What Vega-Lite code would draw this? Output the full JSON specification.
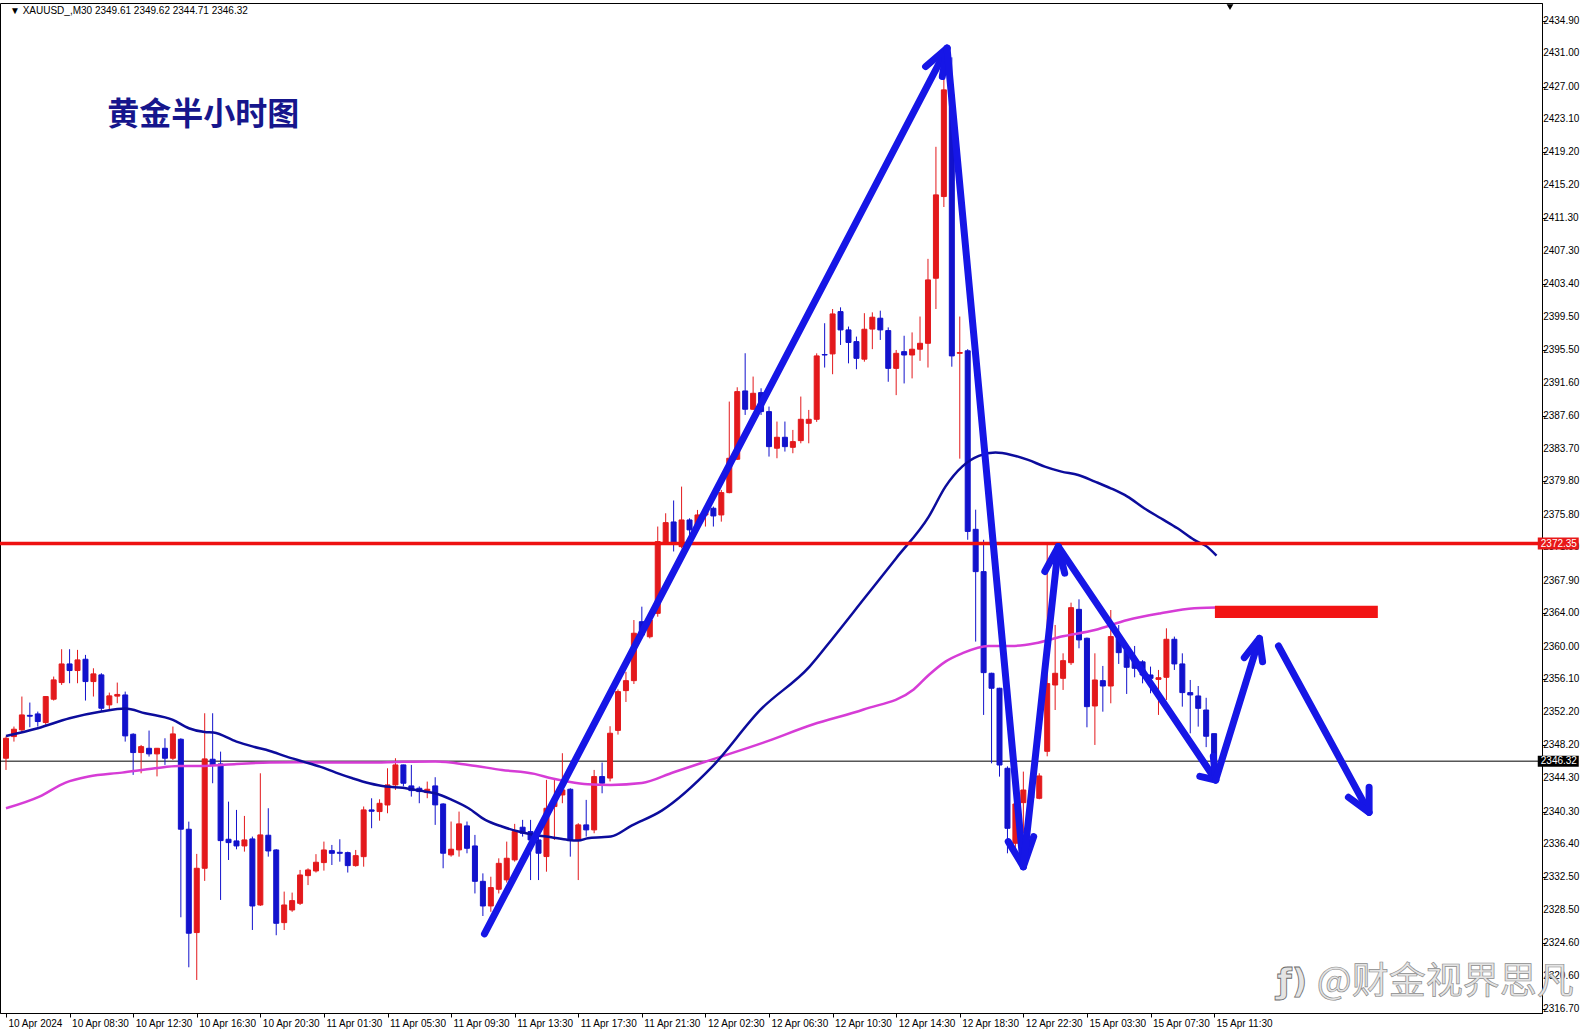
{
  "$schema": "https://vega.github.io/schema/vega-lite/v6.json",
  "width": 1542,
  "height": 1010,
  "autosize": "none",
  "padding": {"left": 0, "top": 3, "right": 48, "bottom": 23},
  "background": "#ffffff",
  "datasets": {
    "k": [
      {"i":0,"o":2346.67,"h":2349.3,"l":2345.27,"c":2349.06},
      {"i":1,"o":2349.26,"h":2350.46,"l":2348.66,"c":2350.14},
      {"i":2,"o":2350.06,"h":2354.05,"l":2349.86,"c":2351.85},
      {"i":3,"o":2351.8,"h":2353.33,"l":2350.38,"c":2351.7},
      {"i":4,"o":2351.97,"h":2352.25,"l":2350.46,"c":2351.06},
      {"i":5,"o":2350.94,"h":2354.1,"l":2350.66,"c":2354.05},
      {"i":6,"o":2353.73,"h":2356.44,"l":2353.57,"c":2356.04},
      {"i":7,"o":2355.72,"h":2359.71,"l":2355.44,"c":2357.95},
      {"i":8,"o":2357.95,"h":2359.71,"l":2355.64,"c":2357.16},
      {"i":9,"o":2357.16,"h":2359.63,"l":2355.64,"c":2358.43},
      {"i":10,"o":2358.51,"h":2359.03,"l":2353.57,"c":2355.84},
      {"i":11,"o":2355.84,"h":2357.43,"l":2354.05,"c":2356.76},
      {"i":12,"o":2356.64,"h":2356.84,"l":2352.25,"c":2352.65},
      {"i":13,"o":2353.05,"h":2354.52,"l":2352.45,"c":2354.13},
      {"i":14,"o":2354.1,"h":2355.72,"l":2353.25,"c":2354.3},
      {"i":15,"o":2354.24,"h":2354.64,"l":2348.66,"c":2349.34},
      {"i":16,"o":2349.54,"h":2349.66,"l":2344.68,"c":2347.35},
      {"i":17,"o":2347.35,"h":2348.26,"l":2344.87,"c":2348.06},
      {"i":18,"o":2347.86,"h":2349.98,"l":2346.87,"c":2347.19},
      {"i":19,"o":2347.19,"h":2347.9,"l":2344.5,"c":2347.86},
      {"i":20,"o":2347.86,"h":2349.06,"l":2345.87,"c":2346.67},
      {"i":21,"o":2346.67,"h":2350.46,"l":2346.47,"c":2349.58},
      {"i":22,"o":2348.94,"h":2349.06,"l":2327.65,"c":2338.18},
      {"i":23,"o":2338.18,"h":2339.09,"l":2321.67,"c":2325.74},
      {"i":24,"o":2325.82,"h":2335.23,"l":2320.15,"c":2333.51},
      {"i":25,"o":2333.51,"h":2352.05,"l":2332.0,"c":2346.59},
      {"i":26,"o":2346.55,"h":2352.05,"l":2343.68,"c":2345.87},
      {"i":27,"o":2345.99,"h":2347.46,"l":2329.72,"c":2336.82},
      {"i":28,"o":2336.98,"h":2341.48,"l":2334.5,"c":2336.58},
      {"i":29,"o":2336.78,"h":2340.49,"l":2335.78,"c":2336.18},
      {"i":30,"o":2336.18,"h":2339.77,"l":2335.5,"c":2336.9},
      {"i":31,"o":2337.02,"h":2337.3,"l":2326.13,"c":2329.0},
      {"i":32,"o":2329.12,"h":2344.87,"l":2329.0,"c":2337.5},
      {"i":33,"o":2337.46,"h":2340.69,"l":2334.9,"c":2335.58},
      {"i":34,"o":2335.7,"h":2335.8,"l":2325.5,"c":2326.93},
      {"i":35,"o":2327.01,"h":2330.72,"l":2326.13,"c":2329.12},
      {"i":36,"o":2328.52,"h":2330.6,"l":2328.3,"c":2329.64},
      {"i":37,"o":2329.32,"h":2333.31,"l":2329.12,"c":2332.71},
      {"i":38,"o":2332.63,"h":2333.5,"l":2331.5,"c":2333.31},
      {"i":39,"o":2333.19,"h":2335.2,"l":2333.0,"c":2334.23},
      {"i":40,"o":2334.19,"h":2336.7,"l":2333.23,"c":2335.7},
      {"i":41,"o":2335.62,"h":2336.3,"l":2333.9,"c":2335.3},
      {"i":42,"o":2335.42,"h":2336.98,"l":2334.3,"c":2335.3},
      {"i":43,"o":2335.38,"h":2335.5,"l":2333.0,"c":2333.83},
      {"i":44,"o":2333.83,"h":2335.7,"l":2333.7,"c":2335.02},
      {"i":45,"o":2334.9,"h":2340.9,"l":2333.7,"c":2340.49},
      {"i":46,"o":2340.49,"h":2341.88,"l":2338.3,"c":2340.33},
      {"i":47,"o":2340.29,"h":2341.76,"l":2339.2,"c":2341.28},
      {"i":48,"o":2341.08,"h":2345.47,"l":2340.09,"c":2343.48},
      {"i":49,"o":2343.48,"h":2346.67,"l":2342.88,"c":2345.87},
      {"i":50,"o":2345.87,"h":2345.9,"l":2343.3,"c":2343.68},
      {"i":51,"o":2343.36,"h":2345.87,"l":2342.08,"c":2342.8},
      {"i":52,"o":2343.08,"h":2343.3,"l":2341.29,"c":2342.68},
      {"i":53,"o":2342.56,"h":2343.88,"l":2341.89,"c":2342.96},
      {"i":54,"o":2343.36,"h":2344.4,"l":2338.7,"c":2341.09},
      {"i":55,"o":2341.2,"h":2341.29,"l":2333.51,"c":2335.31},
      {"i":56,"o":2335.11,"h":2339.1,"l":2334.9,"c":2335.79},
      {"i":57,"o":2335.71,"h":2340.29,"l":2334.9,"c":2338.82},
      {"i":58,"o":2338.58,"h":2339.1,"l":2335.3,"c":2335.9},
      {"i":59,"o":2336.18,"h":2337.5,"l":2330.5,"c":2331.95},
      {"i":60,"o":2331.95,"h":2332.9,"l":2327.8,"c":2329.0},
      {"i":61,"o":2329.0,"h":2332.5,"l":2328.3,"c":2331.2},
      {"i":62,"o":2331.0,"h":2334.7,"l":2330.5,"c":2334.1},
      {"i":63,"o":2332.12,"h":2336.7,"l":2331.8,"c":2334.71},
      {"i":64,"o":2334.51,"h":2338.82,"l":2334.3,"c":2337.9},
      {"i":65,"o":2338.42,"h":2339.3,"l":2337.3,"c":2337.7},
      {"i":66,"o":2337.9,"h":2339.3,"l":2332.1,"c":2336.9},
      {"i":67,"o":2336.9,"h":2337.7,"l":2332.1,"c":2335.31},
      {"i":68,"o":2334.91,"h":2344.08,"l":2333.1,"c":2340.69},
      {"i":69,"o":2340.89,"h":2344.08,"l":2336.9,"c":2341.49},
      {"i":70,"o":2342.28,"h":2347.27,"l":2341.29,"c":2342.88},
      {"i":71,"o":2342.96,"h":2343.08,"l":2334.9,"c":2336.9},
      {"i":72,"o":2336.9,"h":2338.9,"l":2332.1,"c":2338.7},
      {"i":73,"o":2338.7,"h":2341.69,"l":2337.3,"c":2338.1},
      {"i":74,"o":2338.1,"h":2345.27,"l":2337.7,"c":2344.48},
      {"i":75,"o":2344.48,"h":2346.15,"l":2342.48,"c":2343.68},
      {"i":76,"o":2344.3,"h":2350.5,"l":2343.9,"c":2349.66},
      {"i":77,"o":2350.0,"h":2354.9,"l":2349.5,"c":2354.64},
      {"i":78,"o":2354.76,"h":2357.0,"l":2353.4,"c":2355.95},
      {"i":79,"o":2355.95,"h":2363.2,"l":2355.55,"c":2361.62},
      {"i":80,"o":2363.0,"h":2364.8,"l":2361.0,"c":2361.4},
      {"i":81,"o":2361.2,"h":2363.5,"l":2361.0,"c":2363.2},
      {"i":82,"o":2364.0,"h":2374.38,"l":2363.6,"c":2372.58},
      {"i":83,"o":2372.38,"h":2375.97,"l":2372.3,"c":2374.85},
      {"i":84,"o":2374.93,"h":2377.5,"l":2371.4,"c":2372.38},
      {"i":85,"o":2371.98,"h":2379.16,"l":2371.78,"c":2375.17},
      {"i":86,"o":2375.17,"h":2375.37,"l":2372.38,"c":2373.98},
      {"i":87,"o":2374.38,"h":2376.37,"l":2373.98,"c":2375.77},
      {"i":88,"o":2375.77,"h":2376.77,"l":2374.38,"c":2376.17},
      {"i":89,"o":2376.57,"h":2376.77,"l":2374.38,"c":2375.65},
      {"i":90,"o":2375.77,"h":2378.76,"l":2374.97,"c":2378.44},
      {"i":91,"o":2378.44,"h":2389.33,"l":2378.36,"c":2382.55},
      {"i":92,"o":2382.43,"h":2391.04,"l":2382.35,"c":2390.52},
      {"i":93,"o":2390.6,"h":2395.11,"l":2387.73,"c":2388.41},
      {"i":94,"o":2388.41,"h":2392.32,"l":2388.33,"c":2390.32},
      {"i":95,"o":2390.4,"h":2390.92,"l":2387.73,"c":2388.13},
      {"i":96,"o":2388.13,"h":2388.73,"l":2382.75,"c":2383.94},
      {"i":97,"o":2383.75,"h":2386.94,"l":2382.55,"c":2385.06},
      {"i":98,"o":2385.06,"h":2386.94,"l":2383.35,"c":2383.94},
      {"i":99,"o":2383.86,"h":2385.94,"l":2383.15,"c":2384.54},
      {"i":100,"o":2384.66,"h":2389.93,"l":2384.34,"c":2387.21},
      {"i":101,"o":2386.73,"h":2388.33,"l":2384.34,"c":2387.21},
      {"i":102,"o":2387.21,"h":2395.1,"l":2386.9,"c":2394.79},
      {"i":103,"o":2394.95,"h":2398.7,"l":2393.4,"c":2394.9},
      {"i":104,"o":2395.03,"h":2400.4,"l":2392.6,"c":2399.81},
      {"i":105,"o":2400.09,"h":2400.6,"l":2396.1,"c":2397.9},
      {"i":106,"o":2397.9,"h":2398.3,"l":2393.9,"c":2396.4},
      {"i":107,"o":2396.5,"h":2397.1,"l":2393.2,"c":2394.5},
      {"i":108,"o":2394.4,"h":2399.9,"l":2394.1,"c":2397.98},
      {"i":109,"o":2398.0,"h":2400.0,"l":2395.6,"c":2399.42},
      {"i":110,"o":2399.3,"h":2400.2,"l":2396.7,"c":2397.9},
      {"i":111,"o":2397.82,"h":2398.2,"l":2391.7,"c":2393.3},
      {"i":112,"o":2393.3,"h":2395.5,"l":2390.1,"c":2395.1},
      {"i":113,"o":2395.3,"h":2397.2,"l":2391.5,"c":2394.9},
      {"i":114,"o":2394.9,"h":2397.6,"l":2392.1,"c":2395.59},
      {"i":115,"o":2395.59,"h":2399.5,"l":2394.2,"c":2396.3},
      {"i":116,"o":2396.3,"h":2406.4,"l":2393.4,"c":2403.88},
      {"i":117,"o":2404.08,"h":2419.8,"l":2400.4,"c":2414.05},
      {"i":118,"o":2413.85,"h":2428.2,"l":2412.6,"c":2426.61},
      {"i":119,"o":2426.0,"h":2430.5,"l":2393.5,"c":2394.79},
      {"i":120,"o":2395.1,"h":2399.5,"l":2382.5,"c":2395.2},
      {"i":121,"o":2395.4,"h":2395.6,"l":2372.8,"c":2373.8},
      {"i":122,"o":2374.05,"h":2376.4,"l":2360.62,"c":2368.99},
      {"i":123,"o":2368.99,"h":2372.8,"l":2351.85,"c":2356.91},
      {"i":124,"o":2356.83,"h":2356.9,"l":2346.06,"c":2355.04},
      {"i":125,"o":2355.04,"h":2355.1,"l":2344.47,"c":2345.86},
      {"i":126,"o":2345.47,"h":2345.7,"l":2335.3,"c":2338.29},
      {"i":127,"o":2336.5,"h":2342.0,"l":2335.0,"c":2341.2},
      {"i":128,"o":2341.36,"h":2345.07,"l":2337.69,"c":2342.87},
      {"i":129,"o":2342.8,"h":2344.3,"l":2340.5,"c":2341.9},
      {"i":130,"o":2341.88,"h":2344.87,"l":2341.76,"c":2344.55},
      {"i":131,"o":2347.5,"h":2372.18,"l":2346.9,"c":2355.6},
      {"i":132,"o":2355.43,"h":2362.61,"l":2352.44,"c":2356.83},
      {"i":133,"o":2356.23,"h":2359.22,"l":2354.84,"c":2358.34},
      {"i":134,"o":2358.1,"h":2365.28,"l":2357.83,"c":2364.68},
      {"i":135,"o":2364.48,"h":2365.68,"l":2359.82,"c":2360.82},
      {"i":136,"o":2361.02,"h":2361.1,"l":2350.37,"c":2352.84},
      {"i":137,"o":2352.92,"h":2359.22,"l":2348.26,"c":2356.03},
      {"i":138,"o":2355.95,"h":2357.71,"l":2352.24,"c":2355.31},
      {"i":139,"o":2355.31,"h":2364.4,"l":2353.24,"c":2361.22},
      {"i":140,"o":2361.22,"h":2362.6,"l":2357.95,"c":2359.3},
      {"i":141,"o":2359.62,"h":2360.02,"l":2354.36,"c":2357.55},
      {"i":142,"o":2358.4,"h":2360.1,"l":2356.35,"c":2357.43},
      {"i":143,"o":2358.2,"h":2358.4,"l":2355.63,"c":2356.63},
      {"i":144,"o":2356.63,"h":2357.63,"l":2354.44,"c":2356.23},
      {"i":145,"o":2356.1,"h":2357.23,"l":2351.85,"c":2356.3},
      {"i":146,"o":2356.35,"h":2362.21,"l":2353.64,"c":2360.9},
      {"i":147,"o":2360.9,"h":2361.22,"l":2357.23,"c":2357.95},
      {"i":148,"o":2357.95,"h":2359.22,"l":2352.84,"c":2354.52},
      {"i":149,"o":2354.52,"h":2356.03,"l":2349.65,"c":2354.24},
      {"i":150,"o":2354.12,"h":2355.31,"l":2350.45,"c":2352.64},
      {"i":151,"o":2352.44,"h":2353.9,"l":2348.0,"c":2349.3},
      {"i":152,"o":2349.61,"h":2349.62,"l":2344.71,"c":2346.32}
    ],
    "ma_fast": [
      {"i":0,"p":2349.34},{"i":4,"p":2350.26},{"i":8,"p":2351.45},{"i":12,"p":2352.25},
      {"i":15,"p":2352.61},{"i":17.5,"p":2352.05},{"i":21,"p":2351.25},{"i":23,"p":2350.26},
      {"i":25,"p":2349.8},{"i":26.1,"p":2349.74},{"i":29,"p":2348.66},{"i":31.1,"p":2348.06},
      {"i":33.2,"p":2347.54},{"i":35.3,"p":2346.87},{"i":37.4,"p":2346.27},{"i":39.5,"p":2345.67},
      {"i":41.5,"p":2344.95},{"i":43.6,"p":2344.27},{"i":45.7,"p":2343.68},{"i":47.8,"p":2343.28},
      {"i":49.9,"p":2343.15},{"i":52,"p":2342.8},{"i":54,"p":2342.48},{"i":56.1,"p":2341.69},
      {"i":58.2,"p":2340.69},{"i":60.3,"p":2339.29},{"i":62.4,"p":2338.5},{"i":64.5,"p":2337.9},
      {"i":66.5,"p":2337.5},{"i":68.6,"p":2337.22},{"i":70.7,"p":2336.9},{"i":72,"p":2336.82},
      {"i":73.2,"p":2337.1},{"i":74.9,"p":2337.22},{"i":76.1,"p":2337.3},{"i":78.7,"p":2338.6},
      {"i":82.5,"p":2340.4},{"i":88.8,"p":2345.6},{"i":94.9,"p":2352.45},{"i":101.1,"p":2357.63},
      {"i":104,"p":2361.0},{"i":108,"p":2365.8},{"i":112,"p":2370.6},{"i":116.1,"p":2375.57},
      {"i":118.2,"p":2379.16},{"i":120.3,"p":2381.55},{"i":122.4,"p":2382.83},{"i":124.5,"p":2383.23},
      {"i":126.5,"p":2382.95},{"i":128.6,"p":2382.35},{"i":130.7,"p":2381.55},{"i":132.8,"p":2380.95},
      {"i":134.9,"p":2380.55},{"i":137,"p":2379.76},{"i":139,"p":2378.96},{"i":141.1,"p":2377.96},
      {"i":143.2,"p":2376.57},{"i":145.3,"p":2375.37},{"i":147.4,"p":2374.17},{"i":149.5,"p":2372.78},
      {"i":151.1,"p":2371.98},{"i":152.3,"p":2370.9}
    ],
    "ma_slow": [
      {"i":0,"p":2340.69},{"i":4.2,"p":2342.08},{"i":7.5,"p":2343.76},{"i":10.4,"p":2344.48},
      {"i":14.6,"p":2344.95},{"i":18.75,"p":2345.47},{"i":21.7,"p":2345.75},{"i":25,"p":2345.75},
      {"i":29,"p":2345.99},{"i":33.2,"p":2346.15},{"i":37.4,"p":2346.19},{"i":41.5,"p":2346.15},
      {"i":45.7,"p":2346.15},{"i":49.9,"p":2346.25},{"i":54,"p":2346.27},{"i":58.2,"p":2345.87},
      {"i":62.4,"p":2345.27},{"i":66.5,"p":2344.8},{"i":68.6,"p":2344.28},{"i":70.7,"p":2343.88},
      {"i":73.2,"p":2343.56},{"i":76.1,"p":2343.48},{"i":80,"p":2343.7},{"i":84,"p":2345.0},
      {"i":88.8,"p":2346.5},{"i":95.2,"p":2348.5},{"i":101.5,"p":2350.7},{"i":107.9,"p":2352.5},
      {"i":114.2,"p":2354.9},{"i":116.1,"p":2356.63},{"i":118.2,"p":2358.23},{"i":120.3,"p":2359.22},
      {"i":123.6,"p":2360.1},{"i":126.5,"p":2360.1},{"i":129.5,"p":2360.42},{"i":132.8,"p":2361.22},
      {"i":137,"p":2362.01},{"i":141.1,"p":2363.21},{"i":145.3,"p":2364.01},{"i":149.5,"p":2364.61},
      {"i":151.1,"p":2364.68},{"i":152.3,"p":2364.7}
    ],
    "arrows": [
      {"g":"a1","k":0,"i":60.2,"p":2325.66},{"g":"a1","k":1,"i":118.4,"p":2431.6},
      {"g":"h1","k":0,"i":115.7,"p":2429.4},{"g":"h1","k":1,"i":118.4,"p":2431.6},{"g":"h1","k":2,"i":117.8,"p":2428.2},
      {"g":"a2","k":0,"i":118.4,"p":2431.6},{"g":"a2","k":1,"i":128.0,"p":2333.7},
      {"g":"h2","k":0,"i":126.1,"p":2336.7},{"g":"h2","k":1,"i":128.0,"p":2333.7},{"g":"h2","k":2,"i":129.3,"p":2337.3},
      {"g":"a3","k":0,"i":128.0,"p":2333.7},{"g":"a3","k":1,"i":132.4,"p":2371.98},
      {"g":"h3","k":0,"i":130.7,"p":2369.0},{"g":"h3","k":1,"i":132.4,"p":2371.98},{"g":"h3","k":2,"i":133.2,"p":2368.8},
      {"g":"a4","k":0,"i":132.4,"p":2371.98},{"g":"a4","k":1,"i":152.2,"p":2344.07},
      {"g":"h4","k":0,"i":150.2,"p":2344.5},{"g":"h4","k":1,"i":152.2,"p":2344.07},{"g":"h4","k":2,"i":151.9,"p":2346.9},
      {"g":"a5","k":0,"i":152.2,"p":2344.07},{"g":"a5","k":1,"i":157.7,"p":2361.0},
      {"g":"h5","k":0,"i":155.8,"p":2358.7},{"g":"h5","k":1,"i":157.7,"p":2361.0},{"g":"h5","k":2,"i":158.1,"p":2358.2},
      {"g":"a6","k":0,"i":160.1,"p":2360.1},{"g":"a6","k":1,"i":171.5,"p":2340.2},
      {"g":"h6","k":0,"i":168.9,"p":2342.0},{"g":"h6","k":1,"i":171.5,"p":2340.2},{"g":"h6","k":2,"i":171.5,"p":2343.2}
    ],
    "yticks": [
      {"p":2316.7},{"p":2320.6},{"p":2324.6},{"p":2328.5},{"p":2332.5},{"p":2336.4},{"p":2340.3},{"p":2344.3},
      {"p":2348.2},{"p":2352.2},{"p":2356.1},{"p":2360.0},{"p":2364.0},{"p":2367.9},{"p":2371.9},{"p":2375.8},
      {"p":2379.8},{"p":2383.7},{"p":2387.6},{"p":2391.6},{"p":2395.5},{"p":2399.5},{"p":2403.4},{"p":2407.3},
      {"p":2411.3},{"p":2415.2},{"p":2419.2},{"p":2423.1},{"p":2427.0},{"p":2431.0},{"p":2434.9}
    ]
  },
  "config": {
    "view": {"stroke": "#000000", "strokeWidth": 1},
    "axis": {
      "grid": false,
      "domainColor": "#000000",
      "tickColor": "#000000",
      "labelColor": "#000000",
      "labelFont": "Liberation Sans",
      "labelFontSize": 10
    }
  },
  "layer": [
    {
      "data": {"values": [{"p": 2346.32}]},
      "mark": {"type": "rule", "color": "#000000", "strokeWidth": 1},
      "encoding": {
        "y": {
          "field": "p", "type": "quantitative", "title": null,
          "scale": {"domain": [2316.2, 2437.0], "zero": false, "nice": false},
          "axis": {
            "orient": "right",
            "values": [2316.7,2320.6,2324.6,2328.5,2332.5,2336.4,2340.3,2344.3,2348.2,2352.2,2356.1,2360.0,2364.0,2367.9,2371.9,2375.8,2379.8,2383.7,2387.6,2391.6,2395.5,2399.5,2403.4,2407.3,2411.3,2415.2,2419.2,2423.1,2427.0,2431.0,2434.9],
            "labels": false,
            "tickSize": 4
          }
        }
      }
    },
    {
      "data": {"name": "k"},
      "mark": {"type": "rule", "strokeWidth": 1},
      "encoding": {
        "x": {
          "field": "i", "type": "quantitative", "title": null,
          "scale": {"domain": [-0.125, 192.625], "zero": false, "nice": false},
          "axis": {
            "values": [0,8,16,24,32,40,48,56,64,72,80,88,96,104,112,120,128,136,144,152],
            "labelExpr": "['10 Apr 2024','10 Apr 08:30','10 Apr 12:30','10 Apr 16:30','10 Apr 20:30','11 Apr 01:30','11 Apr 05:30','11 Apr 09:30','11 Apr 13:30','11 Apr 17:30','11 Apr 21:30','12 Apr 02:30','12 Apr 06:30','12 Apr 10:30','12 Apr 14:30','12 Apr 18:30','12 Apr 22:30','15 Apr 03:30','15 Apr 07:30','15 Apr 11:30'][round(datum.value / 8)]",
            "labelAlign": "left",
            "labelOffset": 2,
            "labelPadding": 1,
            "tickSize": 4,
            "labelFlush": false,
            "labelOverlap": false
          }
        },
        "y": {"field": "l", "type": "quantitative", "title": null},
        "y2": {"field": "h"},
        "color": {"condition": {"test": "datum.c >= datum.o", "value": "#e3191c"}, "value": "#1212cc"}
      }
    },
    {
      "data": {"name": "k"},
      "mark": {"type": "bar", "size": 5, "strokeWidth": 1},
      "encoding": {
        "x": {"field": "i", "type": "quantitative", "title": null},
        "y": {"field": "o", "type": "quantitative", "title": null},
        "y2": {"field": "c"},
        "color": {"condition": {"test": "datum.c >= datum.o", "value": "#e3191c"}, "value": "#1212cc"},
        "stroke": {"condition": {"test": "datum.c >= datum.o", "value": "#e3191c"}, "value": "#1212cc"}
      }
    },
    {
      "data": {"name": "ma_slow"},
      "mark": {"type": "line", "color": "#d63cd6", "strokeWidth": 2.5, "interpolate": "monotone"},
      "encoding": {
        "x": {"field": "i", "type": "quantitative", "title": null},
        "y": {"field": "p", "type": "quantitative", "title": null}
      }
    },
    {
      "data": {"name": "ma_fast"},
      "mark": {"type": "line", "color": "#0c0c9c", "strokeWidth": 2.5, "interpolate": "monotone"},
      "encoding": {
        "x": {"field": "i", "type": "quantitative", "title": null},
        "y": {"field": "p", "type": "quantitative", "title": null}
      }
    },
    {
      "data": {"values": [{"p": 2372.35}]},
      "mark": {"type": "rule", "color": "#ee1111", "strokeWidth": 3.5},
      "encoding": {
        "y": {"field": "p", "type": "quantitative", "title": null}
      }
    },
    {
      "data": {"values": [{"x1": 152.1, "x2": 172.6, "y1": 2363.45, "y2": 2364.9}]},
      "mark": {"type": "rect", "color": "#f21414"},
      "encoding": {
        "x": {"field": "x1", "type": "quantitative", "title": null},
        "x2": {"field": "x2"},
        "y": {"field": "y1", "type": "quantitative", "title": null},
        "y2": {"field": "y2"}
      }
    },
    {
      "data": {"name": "arrows"},
      "mark": {"type": "line", "color": "#1616e6", "strokeWidth": 7, "strokeCap": "round", "strokeJoin": "round"},
      "encoding": {
        "x": {"field": "i", "type": "quantitative", "title": null},
        "y": {"field": "p", "type": "quantitative", "title": null},
        "detail": {"field": "g"},
        "order": {"field": "k"}
      }
    },
    {
      "data": {"name": "yticks"},
      "mark": {"type": "text", "align": "left", "baseline": "middle", "font": "Liberation Sans", "fontSize": 10, "color": "#000000"},
      "encoding": {
        "x": {"datum": 193.4, "type": "quantitative"},
        "y": {"field": "p", "type": "quantitative", "title": null},
        "text": {"field": "p", "format": ".2f"}
      }
    },
    {
      "data": {"values": [{"t": "黄金半小时图"}]},
      "mark": {"type": "text", "align": "left", "baseline": "middle", "font": "Noto Sans CJK SC", "fontSize": 32, "fontWeight": "bold", "color": "#16168c"},
      "encoding": {
        "x": {"datum": 12.75, "type": "quantitative"},
        "y": {"datum": 2423.6, "type": "quantitative"},
        "text": {"field": "t"}
      }
    },
    {
      "data": {"values": [{"t": "▼ XAUUSD_,M30  2349.61 2349.62 2344.71 2346.32"}]},
      "mark": {"type": "text", "align": "left", "baseline": "middle", "font": "Liberation Sans", "fontSize": 10, "color": "#000000"},
      "encoding": {
        "x": {"datum": 0.5, "type": "quantitative"},
        "y": {"datum": 2436.05, "type": "quantitative"},
        "text": {"field": "t"}
      }
    },
    {
      "data": {"values": [{"t": "@财金视界思凡"}]},
      "mark": {"type": "text", "align": "left", "baseline": "middle", "font": "Noto Sans CJK SC", "fontSize": 37, "color": "#e4e4e4", "stroke": "#8c8c8c", "strokeWidth": 0.7},
      "encoding": {
        "x": {"datum": 164.9, "type": "quantitative"},
        "y": {"datum": 2319.8, "type": "quantitative"},
        "text": {"field": "t"}
      }
    },
    {
      "data": {"values": [{"t": "ƒ)"}]},
      "mark": {"type": "text", "align": "left", "baseline": "middle", "font": "DejaVu Sans", "fontSize": 34, "fontWeight": "bold", "color": "#e4e4e4", "stroke": "#6a6a6a", "strokeWidth": 0.8},
      "encoding": {
        "x": {"datum": 159.9, "type": "quantitative"},
        "y": {"datum": 2319.8, "type": "quantitative"},
        "text": {"field": "t"}
      }
    },
    {
      "data": {"values": [{"p": 2372.35}]},
      "mark": {"type": "tick", "orient": "horizontal", "size": 41, "thickness": 12, "color": "#e81818", "opacity": 1},
      "encoding": {
        "x": {"datum": 195.3, "type": "quantitative"},
        "y": {"field": "p", "type": "quantitative", "title": null}
      }
    },
    {
      "data": {"values": [{"p": 2346.32}]},
      "mark": {"type": "tick", "orient": "horizontal", "size": 41, "thickness": 11, "color": "#000000", "opacity": 1},
      "encoding": {
        "x": {"datum": 195.3, "type": "quantitative"},
        "y": {"field": "p", "type": "quantitative", "title": null}
      }
    },
    {
      "data": {"values": [{"p": 2372.35}, {"p": 2346.32}]},
      "mark": {"type": "text", "align": "left", "baseline": "middle", "font": "Liberation Sans", "fontSize": 10, "color": "#ffffff"},
      "encoding": {
        "x": {"datum": 193.1, "type": "quantitative"},
        "y": {"field": "p", "type": "quantitative", "title": null},
        "text": {"field": "p", "format": ".2f"}
      }
    },
    {
      "data": {"values": [{"i": 154, "p": 2436.5}]},
      "mark": {"type": "point", "shape": "triangle-down", "size": 45, "filled": true, "color": "#000000", "opacity": 1},
      "encoding": {
        "x": {"field": "i", "type": "quantitative", "title": null},
        "y": {"field": "p", "type": "quantitative", "title": null}
      }
    }
  ]
}
